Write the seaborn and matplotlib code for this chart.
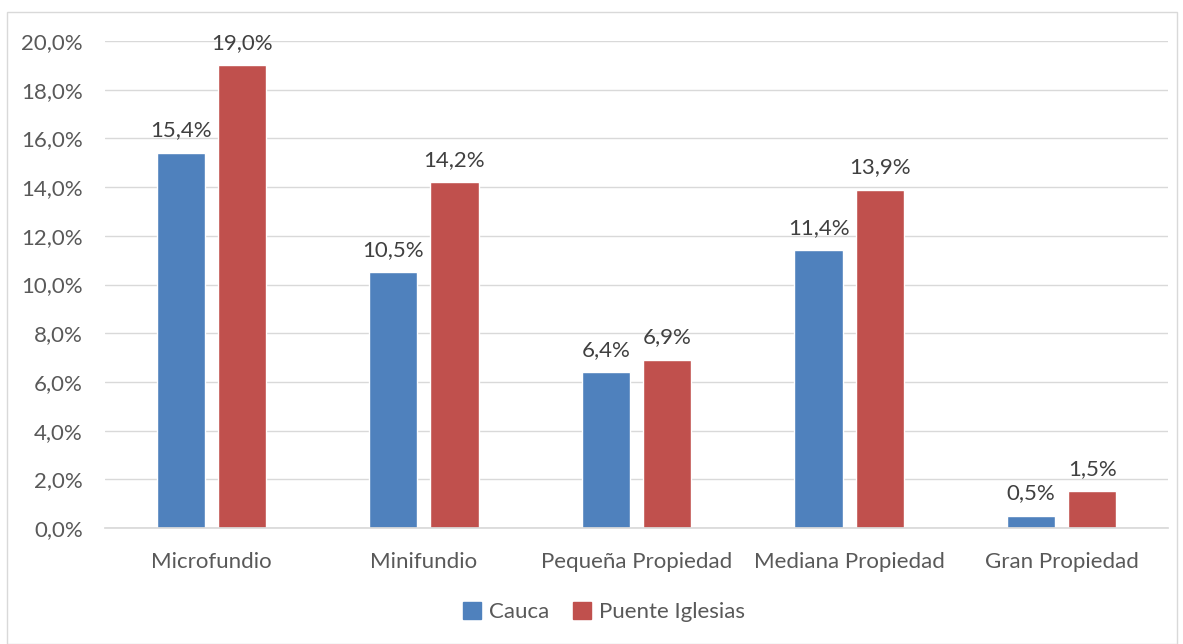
import matplotlib
matplotlib.use("Agg")
import matplotlib.pyplot as plt
import seaborn as sns
import pandas as pd
from matplotlib.patches import Rectangle

categories = ["Microfundio", "Minifundio", "Pequeña Propiedad", "Mediana Propiedad", "Gran Propiedad"]
series_names = ["Cauca", "Puente Iglesias"]
cauca = [15.4, 10.5, 6.4, 11.4, 0.5]
puente = [19.0, 14.2, 6.9, 13.9, 1.5]
yticks = [0, 2, 4, 6, 8, 10, 12, 14, 16, 18, 20]
colors = ["#4F81BD", "#C0504D"]

sns.set_theme(style="white")
plt.rcParams['font.family'] = ['Lato', 'DejaVu Sans']
txt = "#595959"
fs = 16

df = pd.DataFrame({
    "cat": categories * 2,
    "serie": [series_names[0]] * 5 + [series_names[1]] * 5,
    "val": cauca + puente,
})

fig = plt.figure(figsize=(11.83, 6.44), dpi=100)
ax = fig.add_axes([105/1183, 1 - 528/644, (1168-105)/1183, (528-41)/644])
sns.barplot(data=df, x="cat", y="val", hue="serie", palette=colors, ax=ax,
            width=0.574, gap=0.21, errorbar=None, saturation=1, legend=False)

ax.set_ylim(0, 20)
ax.set_xlim(-0.5, 4.5)
ax.set_yticks(yticks)
ax.set_yticklabels([f"{v:.1f}%".replace(".", ",") for v in yticks], fontsize=fs, color=txt)
ax.set_xticklabels(categories, fontsize=fs, color=txt)
ax.tick_params(axis="y", length=0, pad=16)
ax.tick_params(axis="x", length=0, pad=17)
ax.set_xlabel("")
ax.set_ylabel("")
ax.grid(axis="y", color="#D9D9D9", linewidth=1)
ax.set_axisbelow(True)
for s in ["top", "right", "left"]:
    ax.spines[s].set_visible(False)
ax.spines["bottom"].set_color("#D9D9D9")

for cont in ax.containers:
    ax.bar_label(cont, labels=[f"{v:.1f}%".replace(".", ",") for v in cont.datavalues],
                 padding=9, fontsize=fs, color="#404040")

handles = [Rectangle((0, 0), 1, 1, color=c) for c in colors]
fig.legend(handles, series_names, loc="center", bbox_to_anchor=(604/1183, 1 - 612/644),
           ncol=2, frameon=False, fontsize=fs, handlelength=0.8, handleheight=0.8,
           handletextpad=0.35, columnspacing=1.1, labelcolor=txt)

fig.patches.append(Rectangle((7/1183, 0), (1177-7)/1183, 1 - 12/644, transform=fig.transFigure,
                             fill=False, edgecolor="#D9D9D9", linewidth=1))

fig.savefig("out.png", dpi=100, facecolor="white")
